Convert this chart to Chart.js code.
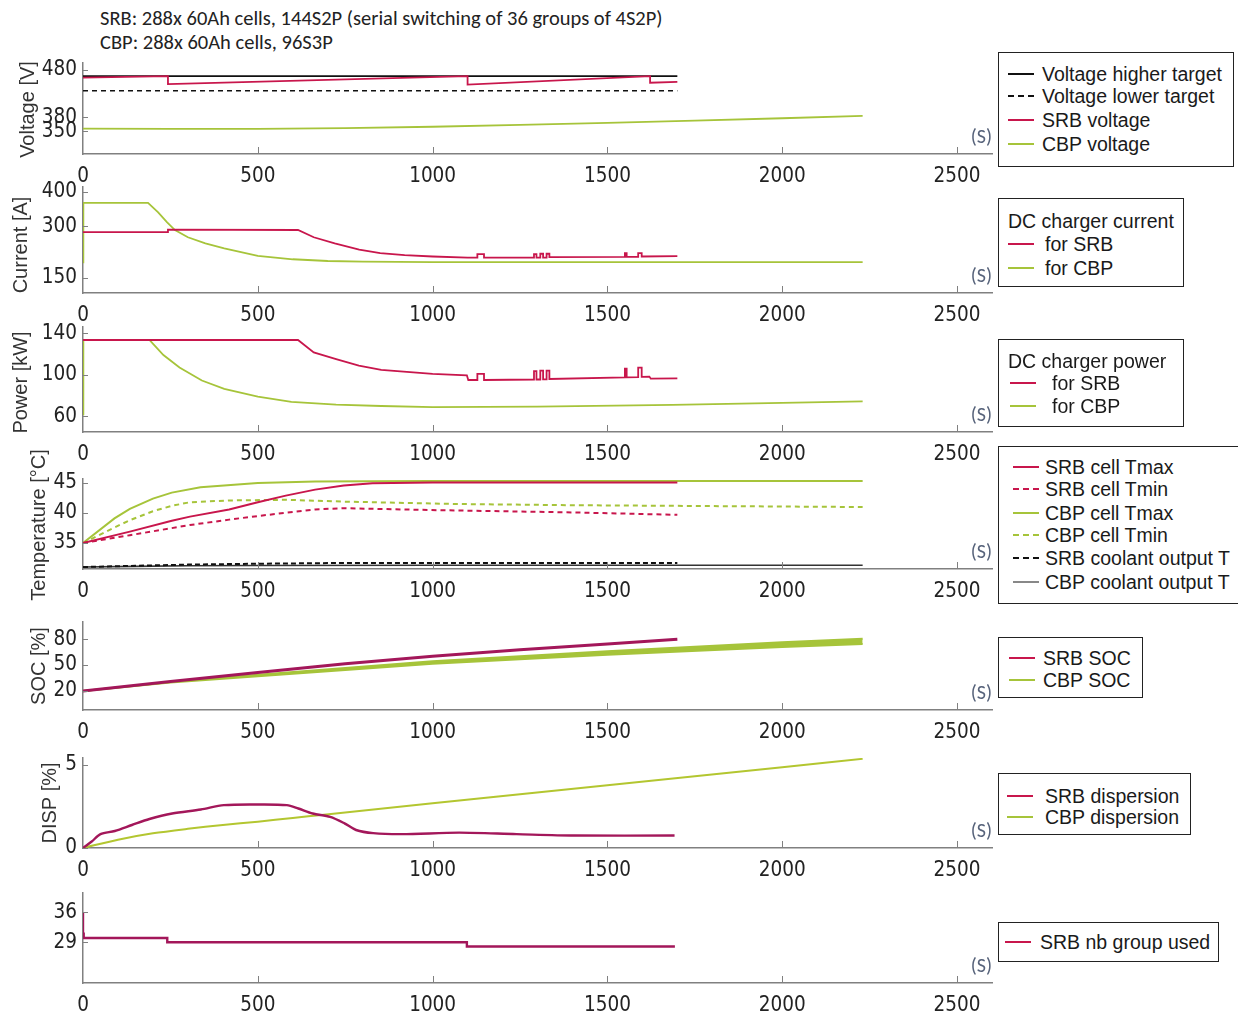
<!DOCTYPE html>
<html>
<head>
<meta charset="utf-8">
<script src="https://cdn.jsdelivr.net/npm/chart.js@4.4.0/dist/chart.umd.min.js"></script>
<style>
  body { margin: 0; background: #fff; }
  #wrap { position: relative; width: 1238px; height: 1014px; overflow: hidden; font-family: 'Liberation Sans', Arial, sans-serif; }
  #wrap canvas { position: absolute; left: 0; }
  .hdr { position: absolute; left: 100px; font-family: Carlito, Lato, sans-serif; font-size: 20.5px; color: #222; white-space: nowrap; line-height: 24px; }
  .lg { position: absolute; border: 1.5px solid #222; box-sizing: border-box; background: #fff; }
  .row { position: absolute; white-space: nowrap; font-size: 19.5px; color: #1a1a1a; line-height: 22px; transform: translateY(-11px); }
  .smp { position: absolute; height: 0; border-top-width: 2px; }
</style>
</head>
<body>
<div id="wrap">
  <div class="hdr" style="top:6px">SRB: 288x 60Ah cells, 144S2P (serial switching of 36 groups of 4S2P)</div>
  <div class="hdr" style="top:30px">CBP: 288x 60Ah cells, 96S3P</div>
</div>
<script>
// ---- data (time in s) ----
var xTicks = [0, 500, 1000, 1500, 2000, 2500];

// voltage
var voltHighT = [0, 1700];
var voltHigh = [467, 467];
var voltLowT = [0, 1700];
var voltLow = [436, 436];
var srbVoltT = [0, 243, 243, 1100, 1100, 1622, 1622, 1700];
var srbVolt = [464, 467, 450, 467, 449, 467, 453, 455];
var cbpVoltT = [0, 250, 500, 750, 1000, 1250, 1500, 1750, 2000, 2230];
var cbpVolt = [356, 355.5, 355.5, 357, 360, 364, 368, 373, 378, 383];

// current
var srbCurT = [0, 243, 243, 615, 660, 720, 790, 850, 920, 1000, 1100, 1128, 1128, 1147, 1147, 1290, 1290, 1297, 1297, 1308, 1308, 1316, 1316, 1326, 1326, 1334, 1334, 1550, 1550, 1555, 1555, 1588, 1588, 1598, 1598, 1700];
var srbCur = [283, 283, 290, 289, 268, 250, 232, 222, 216, 212, 209, 209, 219, 219, 209, 209, 219, 219, 209, 209, 220, 220, 209, 209, 220, 220, 210, 211, 222, 222, 211, 211, 222, 222, 212, 213];
var cbpCurT = [0, 1, 186, 215, 240, 263, 300, 350, 404, 500, 600, 700, 800, 1000, 2230];
var cbpCur = [195, 368, 368, 340, 312, 289, 268, 250, 236, 214, 204, 199, 197, 195.5, 196];

// power
var srbPowT = [0, 615, 660, 724, 789, 853, 917, 1000, 1098, 1102, 1128, 1128, 1147, 1147, 1290, 1290, 1297, 1297, 1308, 1308, 1316, 1316, 1326, 1326, 1334, 1334, 1550, 1550, 1555, 1555, 1588, 1588, 1598, 1598, 1620, 1624, 1700];
var srbPow = [133.5, 133.5, 121.6, 115, 108.8, 104.7, 103, 100.9, 99.5, 95, 95, 101, 101, 95, 95.5, 103.5, 103.5, 95.5, 95.5, 104, 104, 95.6, 95.6, 104, 104, 96, 97.5, 106, 106, 97.6, 97.8, 107, 107, 98, 98.3, 96.3, 96.5];
var cbpPowT = [0, 1, 190, 230, 276, 340, 404, 500, 596, 724, 853, 1000, 1300, 1686, 2000, 2230];
var cbpPow = [62, 133.5, 133.5, 119, 107, 94.5, 86.5, 79, 74, 71.4, 70, 69, 69.5, 71, 73, 74.5];

// temperature
var srbTmaxT = [0, 134, 254, 306, 418, 500, 580, 664, 746, 828, 1000, 1700];
var srbTmax = [35, 36.9, 38.7, 39.4, 40.6, 41.8, 42.9, 43.9, 44.6, 44.95, 45.1, 45.1];
var srbTminT = [0, 134, 306, 418, 500, 664, 746, 992, 1402, 1700];
var srbTmin = [35, 36.3, 38.0, 38.9, 39.5, 40.6, 40.8, 40.5, 40.1, 39.7];
var cbpTmaxT = [0, 90, 134, 200, 254, 336, 500, 664, 992, 2230];
var cbpTmax = [35, 39.1, 40.7, 42.4, 43.4, 44.3, 45, 45.25, 45.35, 45.35];
var cbpTminT = [0, 90, 134, 200, 254, 306, 418, 582, 746, 1074, 1402, 2230];
var cbpTmin = [35, 37.6, 38.8, 40.3, 41.2, 41.8, 42.1, 42.2, 41.9, 41.5, 41.3, 41.0];
var srbCoolT = [0, 150, 300, 500, 700, 1700];
var srbCool = [31.0, 31.2, 31.4, 31.55, 31.65, 31.65];
var cbpCoolT = [0, 150, 300, 500, 1000, 2230];
var cbpCool = [31.0, 31.1, 31.2, 31.25, 31.3, 31.3];

// SOC
var srbSocT = [0, 250, 500, 750, 1000, 1250, 1500, 1700];
var srbSoc = [20, 31, 41.5, 51.5, 60.4, 67.8, 74.4, 80];
var cbpSocT = [0, 250, 500, 1000, 1500, 2000, 2230];
var cbpSocHi = [20, 30.5, 39, 54.5, 66, 76.5, 80.7];
var cbpSocLo = [20, 30, 37, 51.5, 62, 71, 74.4];

// dispersion
var srbDispT = [0, 25, 50, 91, 140, 190, 255, 337, 403, 501, 583, 616, 657, 707, 748, 781, 830, 912, 1076, 1240, 1405, 1692];
var srbDisp = [0, 0.39, 0.83, 1.02, 1.38, 1.74, 2.07, 2.31, 2.57, 2.61, 2.57, 2.37, 2.07, 1.87, 1.48, 1.08, 0.89, 0.83, 0.92, 0.83, 0.75, 0.75];
var cbpDispT = [0, 100, 200, 300, 400, 500, 600, 689, 1000, 1500, 2000, 2230];
var cbpDisp = [0, 0.5, 0.88, 1.15, 1.38, 1.58, 1.8, 2.0, 2.68, 3.76, 4.85, 5.35];

// number of groups
var srbGroupT = [0, 2, 241, 1098, 1620, 1693];
var srbGroup = [36, 31, 30, 29, 28, 28];

// ---- styling ----
var AXIS = '#808080';
var RED = '#c8164c';
var RED2 = '#a3175a';
var GREEN = '#a6c43a';
var TICK_FONT = { family: "'Liberation Sans Narrow', 'DejaVu Sans Condensed', 'Arial Narrow', sans-serif", size: 20.5 };
var PAD_TOP = 40, XH = 44, W = 1000, RIGHT = 992;

function pts(t, v) {
    return t.map(function(x, i) { return { x: x, y: v[i] }; });
}

function line(label, t, v, color, extra) {
    return Object.assign({
        label: label,
        data: pts(t, v),
        borderColor: color,
        backgroundColor: color,
        borderWidth: 1.8,
        pointRadius: 0,
        fill: false,
        tension: 0
    }, extra || {});
}

// inward ticks, rotated y title and "(S)" unit label
var panelDeco = {
    id: 'panelDeco',
    afterDraw: function(chart, args, opts) {
        var ctx = chart.ctx, a = chart.chartArea, x = chart.scales.x, y = chart.scales.y;
        ctx.save();
        ctx.strokeStyle = AXIS;
        ctx.lineWidth = 1;
        x.ticks.forEach(function(t) {
            if (t.value === 0) return;
            var px = Math.round(x.getPixelForValue(t.value)) + 0.5;
            ctx.beginPath(); ctx.moveTo(px, a.bottom); ctx.lineTo(px, a.bottom - 7); ctx.stroke();
        });
        y.ticks.forEach(function(t) {
            var py = Math.round(y.getPixelForValue(t.value)) + 0.5;
            ctx.beginPath(); ctx.moveTo(a.left, py); ctx.lineTo(a.left + 5, py); ctx.stroke();
        });
        ctx.fillStyle = '#56627a';
        ctx.font = "20px Carlito, Lato, sans-serif";
        ctx.textAlign = 'right';
        ctx.textBaseline = 'middle';
        ctx.fillText('(S)', a.right, a.bottom - 16);
        if (opts.title) {
            ctx.translate(opts.titleX, (a.top + a.bottom) / 2 + (opts.titleDy || 0));
            ctx.rotate(-Math.PI / 2);
            ctx.textAlign = 'center';
            ctx.fillStyle = '#333';
            ctx.font = "20px 'Liberation Sans', Arial, sans-serif";
            ctx.fillText(opts.title, 0, 0);
        }
        ctx.restore();
    }
};

function makePanel(p) {
    var cv = document.createElement('canvas');
    cv.width = W;
    cv.height = p.bottom - p.top + PAD_TOP + XH;
    cv.style.top = (p.top - PAD_TOP) + 'px';
    document.getElementById('wrap').appendChild(cv);
    return new Chart(cv.getContext('2d'), {
        type: 'line',
        data: { datasets: p.datasets },
        options: {
            responsive: false,
            animation: false,
            events: [],
            layout: { padding: { top: PAD_TOP, right: W - RIGHT, left: 0, bottom: 0 } },
            plugins: {
                legend: { display: false },
                tooltip: { enabled: false },
                panelDeco: { title: p.title, titleX: p.titleX, titleDy: p.titleDy }
            },
            scales: {
                x: {
                    type: 'linear', min: 0, max: 2600,
                    afterBuildTicks: function(s) { s.ticks = xTicks.map(function(v) { return { value: v }; }); },
                    afterFit: function(s) { s.height = XH; s.paddingLeft = 0; s.paddingRight = 0; },
                    grid: { display: false, drawTicks: false },
                    border: { display: true, color: AXIS, width: 1.5 },
                    ticks: { font: TICK_FONT, color: '#222', padding: 10, maxRotation: 0, autoSkip: false,
                             callback: function(v) { return String(v); } }
                },
                y: {
                    type: 'linear', min: p.min, max: p.max,
                    afterBuildTicks: function(s) { s.ticks = p.yTicks.map(function(v) { return { value: v }; }); },
                    afterFit: function(s) { s.width = 83; s.paddingTop = 0; s.paddingBottom = 0; },
                    grid: { display: false, drawTicks: false },
                    border: { display: true, color: AXIS, width: 1.5 },
                    ticks: { font: TICK_FONT, color: '#222', padding: 6, autoSkip: false,
                             callback: function(v) { return String(v); } }
                }
            }
        },
        plugins: [panelDeco]
    });
}

makePanel({
    top: 63, bottom: 154, min: 302.4, max: 494.8, yTicks: [350, 380, 480],
    title: 'Voltage [V]', titleX: 28, titleDy: 1,
    datasets: [
        line('SRB voltage', srbVoltT, srbVolt, RED),
        line('Voltage higher target', voltHighT, voltHigh, '#111', { borderWidth: 1.6 }),
        line('Voltage lower target', voltLowT, voltLow, '#111', { borderWidth: 1.4, borderDash: [5, 4] }),
        line('CBP voltage', cbpVoltT, cbpVolt, GREEN)
    ]
});

makePanel({
    top: 187, bottom: 293, min: 106, max: 414, yTicks: [150, 300, 400],
    title: 'Current [A]', titleX: 21, titleDy: 5,
    datasets: [
        line('for SRB', srbCurT, srbCur, RED),
        line('for CBP', cbpCurT, cbpCur, GREEN)
    ]
});

makePanel({
    top: 327, bottom: 432, min: 45, max: 146, yTicks: [60, 100, 140],
    title: 'Power [kW]', titleX: 21, titleDy: 3,
    datasets: [
        line('for SRB', srbPowT, srbPow, RED),
        line('for CBP', cbpPowT, cbpPow, GREEN)
    ]
});

makePanel({
    top: 479, bottom: 569, min: 30.67, max: 45.67, yTicks: [35, 40, 45],
    title: 'Temperature [°C]', titleX: 39, titleDy: 1,
    datasets: [
        line('SRB cell Tmax', srbTmaxT, srbTmax, RED, { borderWidth: 2 }),
        line('SRB cell Tmin', srbTminT, srbTmin, RED, { borderWidth: 2, borderDash: [5, 4] }),
        line('CBP cell Tmax', cbpTmaxT, cbpTmax, GREEN, { borderWidth: 2 }),
        line('CBP cell Tmin', cbpTminT, cbpTmin, GREEN, { borderWidth: 2, borderDash: [5, 4] }),
        line('SRB coolant output T', srbCoolT, srbCool, '#111', { borderWidth: 2, borderDash: [5, 3] }),
        line('CBP coolant output T', cbpCoolT, cbpCool, '#333', { borderWidth: 1.6 })
    ]
});

makePanel({
    top: 622, bottom: 710, min: -2, max: 100, yTicks: [20, 50, 80],
    title: 'SOC [%]', titleX: 39, titleDy: 0,
    datasets: [
        line('SRB SOC', srbSocT, srbSoc, RED2, { borderWidth: 3 }),
        line('CBP SOC max', cbpSocT, cbpSocHi, GREEN, { borderWidth: 2 }),
        line('CBP SOC min', cbpSocT, cbpSocLo, GREEN, { borderWidth: 2, fill: '-1' })
    ]
});

makePanel({
    top: 758, bottom: 848, min: 0, max: 5.4, yTicks: [0, 5],
    title: 'DISP [%]', titleX: 50, titleDy: 0,
    datasets: [
        line('SRB dispersion', srbDispT, srbDisp, RED2, { borderWidth: 2.4, tension: 0.3 }),
        line('CBP dispersion', cbpDispT, cbpDisp, '#b3c630', { borderWidth: 2, tension: 0.3 })
    ]
});

makePanel({
    top: 893, bottom: 983, min: 19.5, max: 40.5, yTicks: [29, 36],
    datasets: [
        line('SRB nb group used', srbGroupT, srbGroup, RED2, { borderWidth: 2.4, stepped: 'after' })
    ]
});

// ---- legends (page coordinates) ----
var legends = [
    { box: [998, 52, 236, 115], lx: 1008, tx: 1042, rows: [
        ['Voltage higher target', '#111', 'solid', 74],
        ['Voltage lower target', '#111', 'dashed', 96],
        ['SRB voltage', RED, 'solid', 120],
        ['CBP voltage', GREEN, 'solid', 144] ] },
    { box: [998, 198, 186, 89], lx: 1008, tx: 1045, rows: [
        ['DC charger current', null, null, 221, 1008],
        ['for SRB', RED, 'solid', 244],
        ['for CBP', GREEN, 'solid', 268] ] },
    { box: [998, 339, 186, 88], lx: 1010, tx: 1052, rows: [
        ['DC charger power', null, null, 361, 1008],
        ['for SRB', RED, 'solid', 383],
        ['for CBP', GREEN, 'solid', 406] ] },
    { box: [998, 446, 250, 158], lx: 1013, tx: 1045, rows: [
        ['SRB cell Tmax', RED, 'solid', 467],
        ['SRB cell Tmin', RED, 'dashed', 489],
        ['CBP cell Tmax', GREEN, 'solid', 513],
        ['CBP cell Tmin', GREEN, 'dashed', 535],
        ['SRB coolant output T', '#111', 'dashed', 558],
        ['CBP coolant output T', '#888', 'solid', 582] ] },
    { box: [998, 637, 145, 61], lx: 1009, tx: 1043, rows: [
        ['SRB SOC', RED, 'solid', 658],
        ['CBP SOC', GREEN, 'solid', 680] ] },
    { box: [998, 773, 193, 62], lx: 1007, tx: 1045, rows: [
        ['SRB dispersion', RED, 'solid', 796],
        ['CBP dispersion', GREEN, 'solid', 817] ] },
    { box: [998, 922, 221, 40], lx: 1005, tx: 1040, rows: [
        ['SRB nb group used', RED, 'solid', 942] ] }
];

var wrap = document.getElementById('wrap');
legends.forEach(function(lg) {
    var b = document.createElement('div');
    b.className = 'lg';
    b.style.left = lg.box[0] + 'px';
    b.style.top = lg.box[1] + 'px';
    b.style.width = lg.box[2] + 'px';
    b.style.height = lg.box[3] + 'px';
    wrap.appendChild(b);
    lg.rows.forEach(function(r) {
        if (r[1]) {
            var s = document.createElement('div');
            s.className = 'smp';
            s.style.left = lg.lx + 'px';
            s.style.width = '26px';
            s.style.top = (r[3] - 1) + 'px';
            s.style.borderTopStyle = r[2];
            s.style.borderTopColor = r[1];
            wrap.appendChild(s);
        }
        var t = document.createElement('div');
        t.className = 'row';
        t.textContent = r[0];
        t.style.left = (r[4] || lg.tx) + 'px';
        t.style.top = r[3] + 'px';
        wrap.appendChild(t);
    });
});
</script>
</body>
</html>
